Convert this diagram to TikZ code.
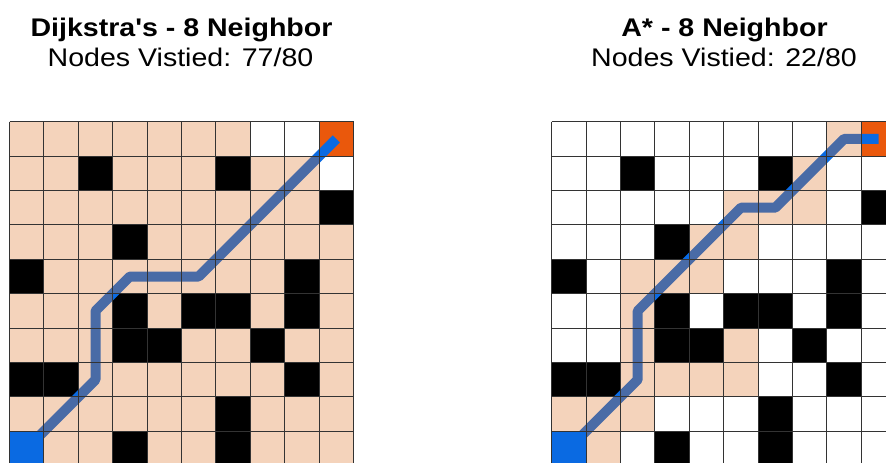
\documentclass[tikz,border=0pt]{standalone}
\usepackage{fontspec}
\setmainfont{Liberation Sans}
\newfontfamily\plotfont[FakeStretch=1.12]{Liberation Sans}

\definecolor{visitbase}{RGB}{220,110,30}
\definecolor{startblue}{RGB}{10,106,226}
\definecolor{goalorange}{RGB}{234,88,12}

\tikzstyle{titletext} = [
anchor=base,
font=\plotfont\fontsize{25.5}{30}\selectfont\bfseries
]
\tikzstyle{counttext} = [
anchor=base,
font=\plotfont\fontsize{25.5}{30}\selectfont
]
\tikzstyle{wallcell} = [
fill=black
]
\tikzstyle{visitcell} = [
fill=visitbase,
fill opacity=0.3
]
\tikzstyle{startcell} = [
fill=startblue
]
\tikzstyle{goalcell} = [
fill=goalorange
]
\tikzstyle{route} = [
draw=startblue,
line width=10pt,
line join=round
]
\tikzstyle{gridline} = [
draw=black!80,
line width=1pt
]

% obstacles, same map for both searches
\newcommand{\wallcells}{2/1,6/1,9/2,3/3,0/4,8/4,3/5,5/5,6/5,8/5,3/6,4/6,7/6,0/7,1/7,8/7,6/8,3/9,6/9}

\begin{document}
\begin{tikzpicture}[
x=1pt,
y=-1pt
]

\useasboundingbox (0,0) rectangle (886,463);
\clip (0,0) rectangle (886,463);

% Titles
\node (dijkTitle) [titletext] at (181.5,36) {Dijkstra's - 8 Neighbor};
\node (dijkCount) [counttext] at (180.5,66.7) {Nodes Vistied: 77/80};

\node (astarTitle) [titletext] at (724.5,36) {A* - 8 Neighbor};
\node (astarCount) [counttext] at (724,66.7) {Nodes Vistied: 22/80};

% Dijkstra grid
\begin{scope}[shift={(9.5,121.7)}, x=34.4pt, y=-34.4pt]
\foreach \c/\r in \wallcells
  \fill [wallcell] (\c,\r) rectangle ++(1,1);
\fill [goalcell] (9,0) rectangle ++(1,1);

\coordinate (d0) at (0.5,9.5);
\coordinate (d1) at (2.5,7.5);
\coordinate (d2) at (2.5,5.5);
\coordinate (d3) at (3.5,4.5);
\coordinate (d4) at (5.5,4.5);
\coordinate (d5) at (9.5,0.5);
\draw [route] (d0) -- (d1) -- (d2) -- (d3) -- (d4) -- (d5);

\foreach \r/\cols in {0/{0,...,6}, 1/{0,1,3,4,5,7,8}, 2/{0,...,8},
  3/{0,1,2,4,5,6,7,8,9}, 4/{1,...,7,9}, 5/{0,1,2,4,7,9},
  6/{0,1,2,5,6,8,9}, 7/{2,...,7,9}, 8/{0,...,5,7,8,9}, 9/{1,2,4,5,7,8,9}}
  \foreach \c in \cols
    \fill [visitcell] (\c,\r) rectangle ++(1,1);

\fill [startcell] (0,9) rectangle ++(1,1);
\foreach \i in {0,...,10} {
  \draw [gridline] (\i,0) -- (\i,10);
  \draw [gridline] (0,\i) -- (10,\i);
}
\end{scope}

% A* grid
\begin{scope}[shift={(551.7,121.7)}, x=34.4pt, y=-34.4pt]
\foreach \c/\r in \wallcells
  \fill [wallcell] (\c,\r) rectangle ++(1,1);
\fill [goalcell] (9,0) rectangle ++(1,1);

\coordinate (a0) at (0.5,9.5);
\coordinate (a1) at (2.5,7.5);
\coordinate (a2) at (2.5,5.5);
\coordinate (a3) at (5.5,2.5);
\coordinate (a4) at (6.5,2.5);
\coordinate (a5) at (8.5,0.5);
\coordinate (a6) at (9.5,0.5);
\draw [route] (a0) -- (a1) -- (a2) -- (a3) -- (a4) -- (a5) -- (a6);

\foreach \r/\cols in {0/{8}, 1/{7}, 2/{5,6,7}, 3/{4,5}, 4/{2,3,4},
  5/{2}, 6/{2,5}, 7/{2,3,4,5}, 8/{0,1,2}, 9/{1}}
  \foreach \c in \cols
    \fill [visitcell] (\c,\r) rectangle ++(1,1);

\fill [startcell] (0,9) rectangle ++(1,1);
\foreach \i in {0,...,10} {
  \draw [gridline] (\i,0) -- (\i,10);
  \draw [gridline] (0,\i) -- (10,\i);
}
\end{scope}

\end{tikzpicture}
\end{document}
